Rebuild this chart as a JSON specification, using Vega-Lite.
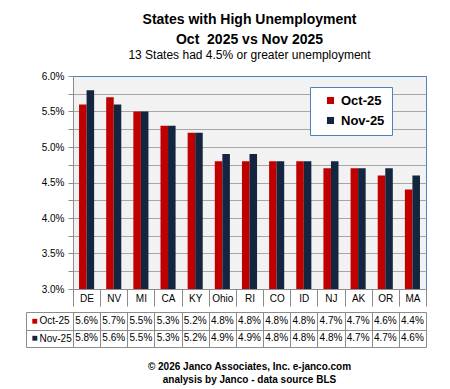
{
  "$schema": "https://vega.github.io/schema/vega-lite/v6.json",
  "padding": {"left": 25, "top": 12, "right": 5, "bottom": 5},
  "background": "white",
  "config": {"font": "Liberation Sans"},
  "data": {"values": [
    {"state": "DE", "series": "Oct-25", "rate": 0.056}, {"state": "DE", "series": "Nov-25", "rate": 0.058},
    {"state": "NV", "series": "Oct-25", "rate": 0.057}, {"state": "NV", "series": "Nov-25", "rate": 0.056},
    {"state": "MI", "series": "Oct-25", "rate": 0.055}, {"state": "MI", "series": "Nov-25", "rate": 0.055},
    {"state": "CA", "series": "Oct-25", "rate": 0.053}, {"state": "CA", "series": "Nov-25", "rate": 0.053},
    {"state": "KY", "series": "Oct-25", "rate": 0.052}, {"state": "KY", "series": "Nov-25", "rate": 0.052},
    {"state": "Ohio", "series": "Oct-25", "rate": 0.048}, {"state": "Ohio", "series": "Nov-25", "rate": 0.049},
    {"state": "RI", "series": "Oct-25", "rate": 0.048}, {"state": "RI", "series": "Nov-25", "rate": 0.049},
    {"state": "CO", "series": "Oct-25", "rate": 0.048}, {"state": "CO", "series": "Nov-25", "rate": 0.048},
    {"state": "ID", "series": "Oct-25", "rate": 0.048}, {"state": "ID", "series": "Nov-25", "rate": 0.048},
    {"state": "NJ", "series": "Oct-25", "rate": 0.047}, {"state": "NJ", "series": "Nov-25", "rate": 0.048},
    {"state": "AK", "series": "Oct-25", "rate": 0.047}, {"state": "AK", "series": "Nov-25", "rate": 0.047},
    {"state": "OR", "series": "Oct-25", "rate": 0.046}, {"state": "OR", "series": "Nov-25", "rate": 0.047},
    {"state": "MA", "series": "Oct-25", "rate": 0.044}, {"state": "MA", "series": "Nov-25", "rate": 0.046}
  ]},
  "spacing": 0,
  "resolve": {"scale": {"x": "independent", "y": "independent"}},
  "vconcat": [
    {
      "width": 353,
      "height": 213,
      "title": {
        "text": ["States with High Unemployment", "Oct \u00a02025 vs Nov 2025"],
        "subtitle": "13 States had 4.5% or greater unemployment",
        "anchor": "middle",
        "frame": "group",
        "fontSize": 14,
        "fontWeight": "bold",
        "lineHeight": 20,
        "color": "#000",
        "subtitleFontSize": 12,
        "subtitleColor": "#000",
        "subtitlePadding": 3,
        "offset": 10
      },
      "view": {"fill": "#f2f2f2", "stroke": "#4f81bd"},
      "mark": {"type": "bar", "clip": true},
      "encoding": {
        "x": {
          "field": "state", "type": "nominal", "sort": null,
          "scale": {"paddingInner": 0, "paddingOuter": 0},
          "axis": {
            "title": null, "labelAngle": 0, "tickBand": "extent", "tickSize": 17,
            "tickColor": "#8c8c8c", "domainColor": "#8c8c8c", "labelPadding": -8,
            "labelBaseline": "middle", "labelFontSize": 10, "labelColor": "#000",
            "grid": false, "zindex": 1
          }
        },
        "xOffset": {
          "field": "series", "type": "nominal", "sort": ["Oct-25", "Nov-25"],
          "scale": {"paddingInner": 0, "paddingOuter": 0.8}
        },
        "y": {
          "field": "rate", "type": "quantitative",
          "scale": {"domain": [0.03, 0.06], "zero": false, "nice": false},
          "axis": {
            "title": null,
            "values": [0.03, 0.0325, 0.035, 0.0375, 0.04, 0.0425, 0.045, 0.0475, 0.05, 0.0525, 0.055, 0.0575, 0.06],
            "format": ".1%",
            "labelExpr": "round(datum.value*1000) % 5 == 0 ? datum.label : ''",
            "grid": true,
            "gridColor": {"condition": {"test": "datum.value >= 0.0599", "value": "#4f81bd"}, "value": "#a6a6a6"},
            "tickColor": "#8c8c8c", "tickSize": 5,
            "domainColor": "#8c8c8c", "labelFontSize": 10, "labelColor": "#000", "labelPadding": 4
          }
        },
        "color": {
          "field": "series", "type": "nominal", "sort": ["Oct-25", "Nov-25"],
          "scale": {"range": ["#c00000", "#13253f"]},
          "legend": {
            "title": null, "orient": "none", "legendX": 237, "legendY": 11, "direction": "vertical",
            "fillColor": "#ffffff", "strokeColor": "#4f81bd", "padding": 7, "symbolOffset": 7,
            "symbolType": "square", "symbolSize": 50, "symbolStrokeWidth": 0, "symbolOpacity": 1,
            "labelFontSize": 13, "labelFontWeight": "bold", "labelColor": "#000",
            "rowPadding": 6, "labelOffset": 4
          }
        }
      }
    },
    {
      "width": 353,
      "height": 35,
      "view": {"stroke": null},
      "title": {
        "text": ["© 2026 Janco Associates, Inc. e-janco.com", "analysis by Janco - data source BLS"],
        "orient": "bottom", "anchor": "middle", "fontSize": 10, "fontWeight": "bold",
        "lineHeight": 13, "offset": 14, "color": "#000"
      },
      "layer": [
        {
          "mark": {"type": "text", "fontSize": 10, "color": "#000"},
          "encoding": {
            "x": {
              "field": "state", "type": "nominal", "sort": null,
              "scale": {"paddingInner": 0, "paddingOuter": 0},
              "axis": {"title": null, "grid": true, "tickBand": "extent", "labels": false, "ticks": false, "domain": false, "gridColor": "#8c8c8c"}
            },
            "y": {
              "field": "series", "type": "nominal", "sort": ["Oct-25", "Nov-25"],
              "scale": {"paddingInner": 0, "paddingOuter": 0},
              "axis": {
                "orient": "left", "title": null, "domain": true, "domainColor": "#8c8c8c",
                "ticks": true, "tickBand": "extent", "tickSize": 47, "tickColor": "#8c8c8c",
                "grid": true, "gridColor": "#8c8c8c", "labelAlign": "left", "labelBaseline": "middle",
                "labelPadding": -13, "labelFontSize": 10, "labelColor": "#000"
              }
            },
            "text": {"field": "rate", "type": "quantitative", "format": ".1%"}
          }
        },
        {
          "mark": {"type": "text"},
          "encoding": {
            "y": {
              "field": "series", "type": "nominal", "sort": ["Oct-25", "Nov-25"],
              "axis": {
                "orient": "left", "offset": 47, "title": null, "domain": true, "domainColor": "#8c8c8c",
                "ticks": false, "tickSize": 0, "grid": false, "labelExpr": "'■'",
                "labelAlign": "left", "labelBaseline": "middle", "labelPadding": -5, "labelFontSize": 10,
                "labelColor": {"condition": {"test": "datum.value == 'Oct-25'", "value": "#c00000"}, "value": "#13253f"}
              }
            },
            "text": {"value": ""}
          }
        }
      ],
      "resolve": {"axis": {"y": "independent"}}
    }
  ]
}
